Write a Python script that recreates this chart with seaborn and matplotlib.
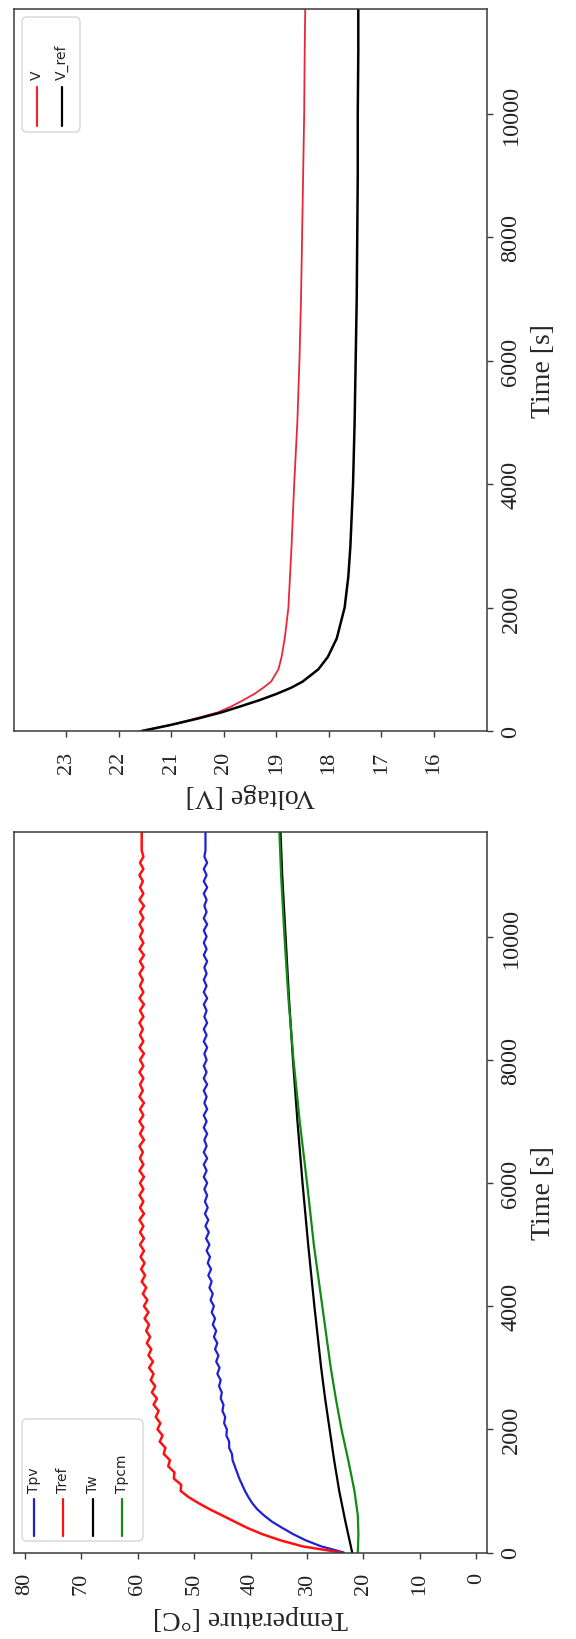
import matplotlib
matplotlib.use("Agg")
import matplotlib.pyplot as plt
import seaborn as sns
from matplotlib.patches import FancyBboxPatch
from matplotlib.lines import Line2D
from matplotlib.transforms import Affine2D

sns.set_theme(style="ticks")
plt.rcParams["font.family"] = ["Liberation Serif", "DejaVu Serif"]
plt.rcParams["axes.edgecolor"] = "#3a3a3a"
plt.rcParams["axes.linewidth"] = 1.1
plt.rcParams["xtick.color"] = "#3a3a3a"
plt.rcParams["ytick.color"] = "#3a3a3a"
plt.rcParams["xtick.labelcolor"] = "#222222"
plt.rcParams["ytick.labelcolor"] = "#222222"

# ---------------- data ----------------
# sampled temperatures (every 100 s, plus final sample)
sample_time_s = list(range(0, 11500, 100)) + [11700]

t_pv = [
    23.5, 27.5, 30.3, 32.5, 34.4, 36.2, 37.6, 38.8, 39.7, 40.4,
    41.0, 41.5, 42.0, 42.4, 42.8, 43.2, 43.3, 43.8, 43.8, 44.3,
    44.2, 44.7, 44.5, 45.0, 44.8, 45.3, 45.1, 45.6, 45.3, 45.9,
    45.5, 46.1, 45.7, 46.3, 45.9, 46.5, 46.1, 46.7, 46.3, 46.9,
    46.5, 47.1, 46.7, 47.3, 46.9, 47.5, 47.0, 47.6, 47.2, 47.8,
    47.3, 47.9, 47.4, 48.0, 47.5, 48.1, 47.6, 48.1, 47.7, 48.2,
    47.7, 48.3, 47.8, 48.3, 47.7, 48.3, 47.8, 48.2, 47.7, 48.3,
    47.8, 48.3, 47.7, 48.2, 47.8, 48.3, 47.7, 48.3, 47.8, 48.3,
    47.8, 48.2, 47.7, 48.3, 47.8, 48.3, 47.7, 48.2, 47.8, 48.3,
    47.7, 48.3, 47.8, 48.3, 47.8, 48.2, 47.7, 48.3, 47.8, 48.3,
    47.8, 48.3, 47.7, 48.3, 47.8, 48.2, 47.8, 48.3, 47.7, 48.3,
    47.8, 48.3, 47.7, 48.2, 48.0,
    48.0,
]

t_ref = [
    24.0, 30.8, 34.8, 38.0, 40.6, 42.8, 45.0, 47.2, 49.2, 51.0,
    52.4, 52.3, 53.6, 53.5, 54.6, 54.3, 55.4, 55.1, 56.1, 55.6,
    56.5, 56.0, 56.8, 56.3, 57.2, 56.6, 57.5, 56.9, 57.7, 57.2,
    58.0, 57.3, 58.1, 57.6, 58.4, 57.8, 58.5, 58.0, 58.8, 58.1,
    58.9, 58.3, 59.1, 58.5, 59.3, 58.7, 59.4, 58.8, 59.5, 58.9,
    59.6, 58.9, 59.6, 59.0, 59.7, 58.9, 59.6, 59.0, 59.7, 59.0,
    59.6, 58.9, 59.7, 59.0, 59.6, 59.1, 59.7, 58.9, 59.6, 59.0,
    59.7, 59.0, 59.6, 58.9, 59.7, 59.1, 59.6, 59.0, 59.7, 59.0,
    59.6, 58.9, 59.7, 59.0, 59.6, 59.1, 59.7, 59.0, 59.6, 58.9,
    59.7, 59.0, 59.6, 59.1, 59.7, 59.0, 59.6, 58.9, 59.7, 59.0,
    59.6, 59.1, 59.7, 59.0, 59.6, 58.9, 59.7, 59.0, 59.6, 59.1,
    59.7, 59.0, 59.6, 59.0, 59.3,
    59.3,
]

tw_time_s = [0, 500, 1000, 1500, 2000, 2500, 3000, 4000, 5000, 6000,
             7000, 8000, 9000, 10000, 11000, 11700]
t_w = [22.0, 23.2, 24.3, 25.2, 26.0, 26.8, 27.5, 28.7, 29.8, 30.8,
       31.7, 32.5, 33.2, 33.8, 34.4, 34.7]

tpcm_time_s = [0, 300, 600, 1000, 1500, 2000, 2500, 3000, 4000, 5000,
               6000, 7000, 8000, 9000, 10000, 11000, 11700]
t_pcm = [21.0, 20.9, 21.0, 21.6, 22.7, 23.9, 24.9, 25.8, 27.3, 28.8,
         30.0, 31.3, 32.4, 33.3, 34.0, 34.6, 34.9]

volt_time_s = [0, 100, 200, 300, 400, 500, 600, 700, 800, 1000, 1200, 1500,
               2000, 2500, 3000, 4000, 5000, 6000, 7000, 8000, 9000, 10000,
               11000, 11700]
v_meas = [21.6, 21.0, 20.55, 20.12, 19.85, 19.63, 19.42, 19.25, 19.10, 18.96,
          18.90, 18.84, 18.77, 18.74, 18.71, 18.66, 18.60, 18.56, 18.53, 18.51,
          18.49, 18.47, 18.46, 18.45]
v_ref = [21.55, 21.0, 20.5, 20.05, 19.68, 19.32, 19.0, 18.72, 18.50, 18.20,
         18.02, 17.85, 17.70, 17.63, 17.59, 17.54, 17.51, 17.49, 17.47, 17.46,
         17.45, 17.45, 17.44, 17.44]

temp_ticks = [0, 10, 20, 30, 40, 50, 60, 70, 80]
volt_ticks = [16, 17, 18, 19, 20, 21, 22, 23]
time_ticks = [0, 2000, 4000, 6000, 8000, 10000]

# ---------------- figure ----------------
W, H = 576, 1640
fig = plt.figure(figsize=(W / 100, H / 100), dpi=100)
fig.patch.set_facecolor("white")


def px_rect(x0, y0, x1, y1):
    """Pixel box (origin top-left) -> figure-fraction rectangle."""
    return [x0 / W, 1 - y1 / H, (x1 - x0) / W, (y1 - y0) / H]


# pixel coordinates with the origin at the top-left corner
pix = Affine2D().scale(1 / W, -1 / H).translate(0, 1) + fig.transFigure

ax_v = fig.add_axes(px_rect(13.6, 10, 486.5, 732))
ax_t = fig.add_axes(px_rect(13.6, 833, 486.5, 1553.5))

line_kw = dict(estimator=None, sort=False, orient="y", legend=False)

sns.lineplot(x=v_meas, y=volt_time_s, ax=ax_v, color="#e8283a", lw=1.3, **line_kw)
sns.lineplot(x=v_ref, y=volt_time_s, ax=ax_v, color="black", lw=1.8, **line_kw)

sns.lineplot(x=t_pv, y=sample_time_s, ax=ax_t, color="#1f1fd6", lw=1.6, **line_kw)
sns.lineplot(x=t_ref, y=sample_time_s, ax=ax_t, color="#ff1010", lw=1.8, **line_kw)
sns.lineplot(x=t_w, y=tw_time_s, ax=ax_t, color="black", lw=1.6, **line_kw)
sns.lineplot(x=t_pcm, y=tpcm_time_s, ax=ax_t, color="#138a13", lw=1.6, **line_kw)

ax_v.set_xlim(24, 15)
ax_v.set_xticks(volt_ticks)
ax_t.set_xlim(82, -1.8)
ax_t.set_xticks(temp_ticks)

for ax, xlabel in ((ax_v, "Voltage [V]"), (ax_t, "Temperature [°C]")):
    ax.set_ylim(0, 11700)
    ax.set_yticks(time_ticks)
    ax.yaxis.tick_right()
    ax.yaxis.set_label_position("right")
    ax.tick_params(axis="x", labelrotation=90, length=4, width=1, pad=10, labelsize=16)
    ax.tick_params(axis="y", labelrotation=90, length=4, width=1, pad=6, labelsize=17.5)
    for lbl in ax.get_yticklabels():
        lbl.set_verticalalignment("center")
    ax.set_xlabel(xlabel, rotation=180, fontsize=20, labelpad=7)
    ax.set_ylabel("Time [s]", rotation=90, fontsize=20, labelpad=7)
    for side in ("top", "right", "bottom", "left"):
        ax.spines[side].set_visible(True)


def draw_legend(box, entries, handle_top, handle_bottom, text_bottom):
    x0, y0, x1, y1 = box
    fig.add_artist(FancyBboxPatch((x0, y0), x1 - x0, y1 - y0,
                                  boxstyle="round,pad=0,rounding_size=5",
                                  transform=pix, facecolor="white", alpha=0.85,
                                  edgecolor="#cfcfcf", linewidth=1.0, zorder=5))
    for xc, color, label in entries:
        fig.add_artist(Line2D([xc, xc], [handle_bottom, handle_top], transform=pix,
                              color=color, lw=1.6, zorder=6))
        fig.text(xc, text_bottom, label, transform=pix, rotation=90,
                 ha="center", va="bottom", fontsize=10,
                 family=["DejaVu Sans"], color="#222222", zorder=6)


draw_legend((22, 18, 80, 133),
            [(37, "#e8283a", "V"), (62, "black", "V_ref")],
            handle_top=88, handle_bottom=127, text_bottom=80)
draw_legend((22, 1420, 143, 1542),
            [(34, "#1f1fd6", "Tpv"), (63, "#ff1010", "Tref"),
             (93, "black", "Tw"), (122, "#138a13", "Tpcm")],
            handle_top=1500, handle_bottom=1537, text_bottom=1493)

fig.savefig("out.png", dpi=100)
